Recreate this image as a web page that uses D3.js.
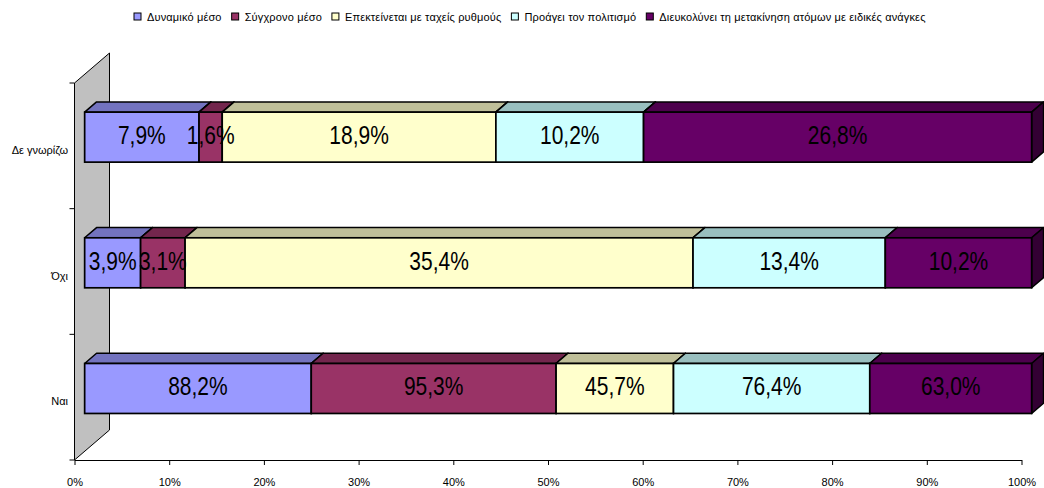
<!DOCTYPE html>
<html>
<head>
<meta charset="utf-8">
<script src="https://cdn.jsdelivr.net/npm/d3@7"></script>
<style>
  html, body { margin: 0; padding: 0; background: #ffffff; }
  svg { display: block; font-family: "Liberation Sans", Arial, sans-serif; }
</style>
</head>
<body>
<svg id="chart" width="1044" height="488"></svg>
<script>
// Categories (rows, top to bottom)
const categories = ["Δε γνωρίζω", "Όχι", "Ναι"];

// Series names (legend order / stacking order)
const seriesNames = [
  "Δυναμικό μέσο",
  "Σύγχρονο μέσο",
  "Επεκτείνεται με ταχείς ρυθμούς",
  "Προάγει τον πολιτισμό",
  "Διευκολύνει τη μετακίνηση ατόμων με ειδικές ανάγκες"
];

// Values per series, in category order
const dynamicValues      = [7.9, 3.9, 88.2];
const modernValues       = [1.6, 3.1, 95.3];
const expandingValues    = [18.9, 35.4, 45.7];
const cultureValues      = [10.2, 13.4, 76.4];
const accessibilityValues = [26.8, 10.2, 63.0];

const tickLabels = ["0%", "10%", "20%", "30%", "40%", "50%", "60%", "70%", "80%", "90%", "100%"];

const seriesValues = [dynamicValues, modernValues, expandingValues, cultureValues, accessibilityValues];

// Face colours: front, top, side
const frontColors = ["#9999FF", "#993366", "#FFFFCC", "#CCFFFF", "#660066"];
const topColors   = ["#7373BF", "#73264D", "#BFBF99", "#99BFBF", "#4D004D"];
const sideColors  = ["#4D4D80", "#4D1A33", "#808066", "#668080", "#330033"];

const svg = d3.select("#chart");

// Front-plane scales
const x = d3.scaleLinear().domain([0, 1]).range([74.5, 1021.5]);
const y = d3.scaleBand().domain(categories).range([83, 460]);

// Depth vector of the 3D box (wall depth), and bar placement inside it
const depth = { dx: 35, dy: -30 };
const barFront = 0.29, barBack = 0.63;
const barHeight = 50;

// Side wall
const wallPts = [
  [x(0), y.range()[0]],
  [x(0) + depth.dx, y.range()[0] + depth.dy],
  [x(0) + depth.dx, y.range()[1] + depth.dy],
  [x(0), y.range()[1]]
];
svg.append("polygon")
  .attr("points", wallPts.map(p => p.join(",")).join(" "))
  .attr("fill", "#C0C0C0")
  .attr("stroke", "#000")
  .attr("stroke-width", 1);

// Left category axis ticks
const boundaries = categories.map(c => y(c)).concat([y.range()[1]]);
svg.append("g").selectAll("line").data(boundaries).join("line")
  .attr("x1", x(0) - 5).attr("x2", x(0))
  .attr("y1", d => d).attr("y2", d => d)
  .attr("stroke", "#000");

svg.append("g").selectAll("text").data(categories).join("text")
  .attr("x", 68)
  .attr("y", d => y(d) + y.bandwidth() / 2 + 8)
  .attr("text-anchor", "end")
  .attr("font-size", 11)
  .attr("fill", "#000")
  .text(d => d);

// Bottom value axis
const xAxis = d3.axisBottom(x)
  .tickValues(d3.range(0, 11).map(i => i / 10))
  .tickFormat((d, i) => tickLabels[i])
  .tickSize(5)
  .tickSizeOuter(0)
  .tickPadding(13);

const axisG = svg.append("g")
  .attr("transform", `translate(0,${y.range()[1]})`)
  .call(xAxis);
axisG.select(".domain").attr("stroke", "#000");
axisG.selectAll(".tick line").attr("stroke", "#000");
axisG.selectAll(".tick text")
  .attr("font-size", 11)
  .attr("font-family", "\"Liberation Sans\", Arial, sans-serif")
  .attr("fill", "#000");

// Stacked 100% bars
const fmt = v => d3.format(".1f")(v).replace(".", ",") + "%";

const offF = { dx: depth.dx * barFront, dy: depth.dy * barFront };
const offB = { dx: depth.dx * barBack, dy: depth.dy * barBack };

const barsG = svg.append("g");
const labelsG = svg.append("g");

categories.forEach((cat, ci) => {
  const total = d3.sum(seriesValues, s => s[ci]);
  const cy = y(cat) + y.bandwidth() / 2 + offF.dy;
  const yTop = cy - barHeight / 2;
  const yBot = cy + barHeight / 2;
  let acc = 0;
  seriesValues.forEach((vals, si) => {
    const v = vals[ci];
    const x0 = x(acc / total) + offF.dx;
    const x1 = x((acc + v) / total) + offF.dx;
    acc += v;
    const ddx = offB.dx - offF.dx, ddy = offB.dy - offF.dy;

    // top face
    barsG.append("polygon")
      .attr("points", [[x0, yTop], [x0 + ddx, yTop + ddy], [x1 + ddx, yTop + ddy], [x1, yTop]].map(p => p.join(",")).join(" "))
      .attr("fill", topColors[si]).attr("stroke", "#000").attr("stroke-width", 1.5)
      .attr("stroke-linejoin", "round");
    // right side face
    barsG.append("polygon")
      .attr("points", [[x1, yTop], [x1 + ddx, yTop + ddy], [x1 + ddx, yBot + ddy], [x1, yBot]].map(p => p.join(",")).join(" "))
      .attr("fill", sideColors[si]).attr("stroke", "#000").attr("stroke-width", 1.5)
      .attr("stroke-linejoin", "round");
    // front face
    barsG.append("rect")
      .attr("x", x0).attr("y", yTop)
      .attr("width", x1 - x0).attr("height", barHeight)
      .attr("fill", frontColors[si]).attr("stroke", "#000").attr("stroke-width", 1.7);

    // value label
    labelsG.append("text")
      .attr("transform", `translate(${(x0 + x1) / 2},${cy + 7}) scale(0.84,1)`)
      .attr("text-anchor", "middle")
      .attr("font-size", 25)
      .attr("fill", "#000")
      .text(fmt(v));
  });
});

// Legend
const legend = svg.append("g").attr("font-size", 11).attr("letter-spacing", 0.15);
let lx = 134;
seriesNames.forEach((name, i) => {
  legend.append("rect")
    .attr("x", lx).attr("y", 13).attr("width", 7).attr("height", 7)
    .attr("fill", frontColors[i]).attr("stroke", "#000").attr("stroke-width", 1);
  const t = legend.append("text")
    .attr("x", lx + 13).attr("y", 21)
    .attr("fill", "#000")
    .text(name);
  lx += 13 + t.node().getComputedTextLength() + 10;
});
</script>
</body>
</html>
